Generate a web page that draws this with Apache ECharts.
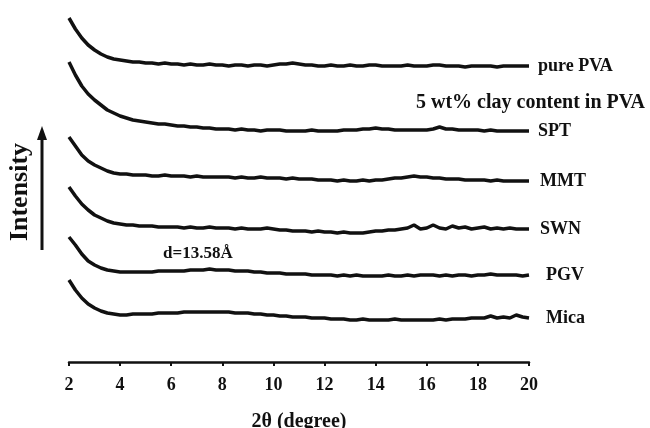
<!DOCTYPE html>
<html>
<head>
<meta charset="utf-8">
<script src="https://cdn.jsdelivr.net/npm/echarts@6/dist/echarts.min.js"></script>
<style>
  html, body { margin: 0; padding: 0; background: #fff; }
  #main { width: 650px; height: 428px; }
</style>
</head>
<body>
<div id="main"></div>
<script>
var myChart = echarts.init(document.getElementById('main'));

// 2θ sampling points (degree)
var twoTheta = [
  2, 2.25, 2.5, 2.75, 3, 3.25, 3.5, 3.75, 4, 4.25, 4.5, 4.75,
  5, 5.25, 5.5, 5.75, 6, 6.25, 6.5, 6.75, 7, 7.25, 7.5, 7.75,
  8, 8.25, 8.5, 8.75, 9, 9.25, 9.5, 9.75, 10, 10.25, 10.5, 10.75,
  11, 11.25, 11.5, 11.75, 12, 12.25, 12.5, 12.75, 13, 13.25, 13.5, 13.75,
  14, 14.25, 14.5, 14.75, 15, 15.25, 15.5, 15.75, 16, 16.25, 16.5, 16.75,
  17, 17.25, 17.5, 17.75, 18, 18.25, 18.5, 18.75, 19, 19.25, 19.5, 19.75, 20
];

// intensity (a.u., curves stacked as in the figure)
var purePVA = [
  344, 333, 324, 317, 312, 308, 305, 303, 302, 301, 300, 300,
  299, 299, 298, 299, 298, 298, 297, 298, 297, 297, 298, 297,
  297, 296, 297, 297, 296, 297, 297, 296, 297, 298, 298, 299,
  298, 297, 297, 296, 296, 297, 296, 296, 297, 296, 296, 297,
  297, 296, 296, 296, 296, 297, 296, 296, 296, 297, 297, 296,
  296, 296, 295, 296, 296, 296, 296, 295, 296, 296, 296, 296, 296
];
var spt = [
  300, 287, 276, 268, 262, 257, 252, 249, 246, 244, 242, 241,
  240, 239, 238, 238, 237, 236, 236, 235, 235, 234, 234, 233,
  233, 233, 232, 233, 232, 232, 231, 232, 232, 232, 231, 231,
  231, 231, 232, 231, 231, 231, 231, 232, 232, 232, 233, 233,
  234, 233, 233, 232, 232, 232, 232, 232, 232, 233, 235, 233,
  233, 232, 232, 232, 232, 231, 232, 231, 231, 231, 231, 231, 231
];
var mmt = [
  225, 216, 207, 201, 197, 194, 191, 189, 188, 188, 187, 187,
  187, 186, 186, 187, 186, 186, 186, 185, 186, 185, 185, 185,
  185, 185, 184, 185, 184, 184, 185, 184, 184, 184, 183, 184,
  183, 183, 183, 182, 182, 182, 181, 182, 181, 181, 182, 181,
  182, 182, 183, 184, 184, 185, 186, 185, 185, 184, 184, 183,
  183, 183, 182, 182, 182, 182, 181, 182, 181, 181, 181, 181, 181
];
var swn = [
  175, 166, 158, 152, 147, 144, 141, 139, 138, 137, 137, 136,
  136, 136, 135, 135, 135, 135, 134, 135, 134, 134, 135, 134,
  134, 134, 133, 134, 133, 133, 133, 134, 133, 132, 132, 131,
  131, 131, 130, 131, 130, 130, 129, 130, 129, 129, 129, 130,
  131, 131, 132, 132, 133, 134, 137, 133, 134, 137, 134, 133,
  136, 134, 135, 133, 134, 135, 133, 134, 133, 134, 133, 133, 133
];
var pgv = [
  125, 117, 108, 101, 97, 94, 92, 91, 90, 90, 90, 90,
  90, 90, 91, 91, 91, 91, 91, 92, 92, 92, 93, 92,
  92, 92, 91, 91, 91, 90, 90, 89, 89, 89, 88, 88,
  88, 88, 87, 87, 87, 87, 86, 87, 86, 87, 86, 86,
  86, 86, 87, 86, 86, 87, 86, 87, 87, 87, 86, 87,
  86, 87, 87, 86, 87, 87, 88, 87, 87, 87, 87, 86, 87
];
var mica = [
  82, 72, 64, 58, 54, 51, 49, 48, 47, 47, 48, 48,
  48, 48, 49, 49, 49, 49, 50, 50, 50, 50, 50, 50,
  50, 50, 49, 49, 49, 48, 48, 47, 47, 46, 46, 45,
  45, 45, 44, 44, 44, 43, 43, 43, 42, 42, 43, 42,
  42, 42, 42, 43, 42, 42, 42, 42, 42, 42, 43, 42,
  43, 43, 43, 44, 44, 44, 46, 44, 45, 44, 47, 45, 44
];

var sampleNames = ['pure PVA', 'SPT', 'MMT', 'SWN', 'PGV', 'Mica'];
var sampleData = [purePVA, spt, mmt, swn, pgv, mica];
var labelGap = [9, 9, 11, 11, 17, 17];

var font = '"Liberation Serif", "Times New Roman", serif';

function pairs(values) {
  return values.map(function (v, i) { return [twoTheta[i], v]; });
}

var series = sampleNames.map(function (name, k) {
  return {
    name: name,
    type: 'line',
    data: pairs(sampleData[k]),
    showSymbol: false,
    silent: true,
    animation: false,
    lineStyle: { color: '#111', width: 3.5 },
    endLabel: {
      show: true,
      formatter: name,
      distance: labelGap[k],
      color: '#111',
      fontFamily: font,
      fontWeight: 'bold',
      fontSize: 18
    }
  };
});

myChart.setOption({
  animation: false,
  grid: { left: 69, right: 121, top: 0, bottom: 66, outerBoundsMode: 'none', containLabel: false },
  xAxis: {
    type: 'value',
    min: 2,
    max: 20,
    interval: 2,
    name: '2θ (degree)',
    nameLocation: 'middle',
    nameGap: 50,
    nameTextStyle: { color: '#111', fontFamily: font, fontWeight: 'bold', fontSize: 20 },
    axisLine: { lineStyle: { color: '#111', width: 2.5 } },
    axisTick: { length: 4, lineStyle: { color: '#111', width: 2 } },
    axisLabel: { color: '#111', fontFamily: font, fontWeight: 'bold', fontSize: 18, margin: 14 },
    splitLine: { show: false }
  },
  yAxis: {
    type: 'value',
    min: 0,
    max: 362,
    show: false
  },
  graphic: [
    {
      type: 'text',
      left: 416,
      top: 93,
      style: { text: '5 wt% clay content in PVA', fill: '#111', font: 'bold 20px ' + font }
    },
    {
      type: 'text',
      left: 163,
      top: 245,
      style: { text: 'd=13.58Å', fill: '#111', font: 'bold 17px ' + font }
    },
    {
      type: 'text',
      x: 20,
      y: 192,
      rotation: Math.PI / 2,
      style: {
        text: 'Intensity',
        fill: '#111',
        font: 'bold 26px ' + font,
        align: 'center',
        verticalAlign: 'middle'
      }
    },
    {
      type: 'line',
      shape: { x1: 42, y1: 250, x2: 42, y2: 138 },
      style: { stroke: '#111', lineWidth: 3 }
    },
    {
      type: 'polygon',
      shape: { points: [[42, 126], [37, 140], [47, 140]] },
      style: { fill: '#111' }
    }
  ],
  series: series
});
</script>
</body>
</html>
